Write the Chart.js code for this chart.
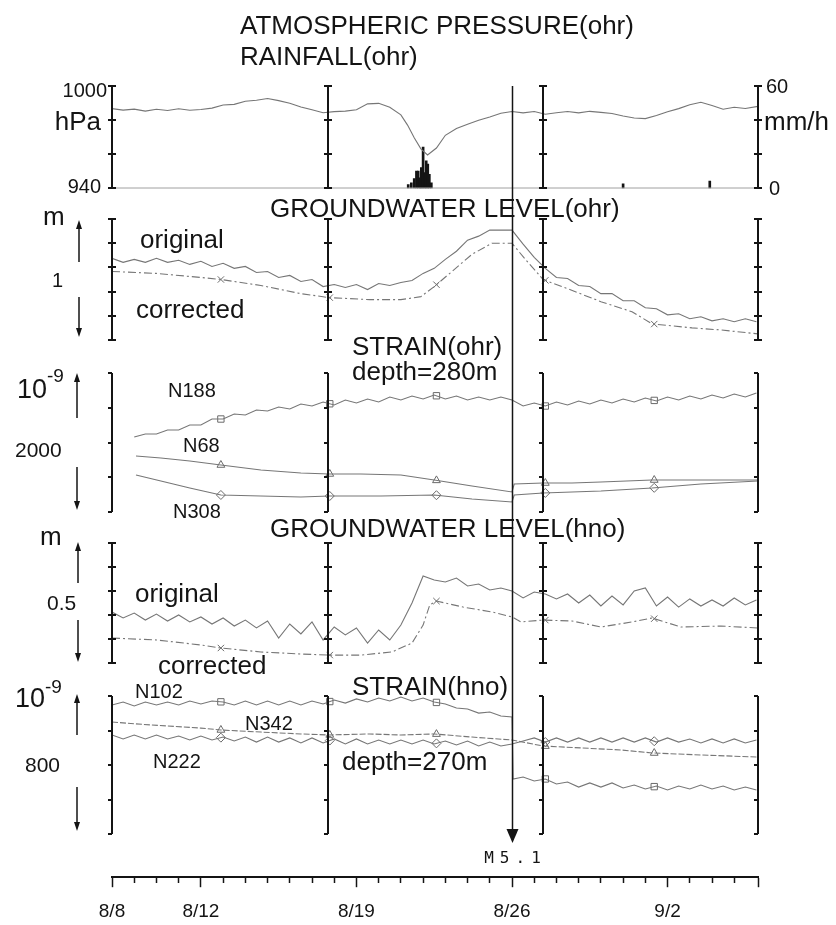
<!DOCTYPE html>
<html>
<head>
<meta charset="utf-8">
<script src="https://cdn.jsdelivr.net/npm/chart.js@4.4.1/dist/chart.umd.min.js"></script>
<style>
  html, body { margin: 0; padding: 0; background: #fff; }
  #wrap { position: relative; width: 836px; height: 925px; }
</style>
</head>
<body>
<div id="wrap"><canvas id="chart" width="836" height="925"></canvas></div>
<script>
// ---- time axis (days after 8/8) ----
const dateLabels = ["8/8", "8/12", "8/19", "8/26", "9/2"];
const dateLabelDays = [0, 4, 11, 18, 25];
const lastDay = 29.07;
const quakeDay = 18;
const quakeLabel = "M5.1";
const frameDays = [0, 9.72, 19.4, 29.07];
const markerDays = [4.9, 9.8, 14.6, 19.5, 24.4];

const halfDays = [0, 0.5, 1, 1.5, 2, 2.5, 3, 3.5, 4, 4.5, 5, 5.5, 6, 6.5, 7, 7.5, 8, 8.5, 9, 9.5,
  10, 10.5, 11, 11.5, 12, 12.5, 13, 13.5, 14, 14.5, 15, 15.5, 16, 16.5, 17, 17.5, 18, 18.5, 19, 19.5,
  20, 20.5, 21, 21.5, 22, 22.5, 23, 23.5, 24, 24.5, 25, 25.5, 26, 26.5, 27, 27.5, 28, 28.5, 29];

// ---- tick values of each panel ----
const pressureTicks = [940, 960, 980, 1000];
const rainTicks = [0, 20, 40, 60];
const gwOhrTicks = [0, 0.25, 0.5, 0.75, 1, 1.25];
const strainOhrTicks = [0, 500, 1000, 1500, 2000];
const gwHnoTicks = [0, 0.1, 0.2, 0.3, 0.4, 0.5];
const strainHnoTicks = [0, 200, 400, 600, 800];

// ---- atmospheric pressure (hPa) ----
const pressureDays = [0, 0.5, 1, 1.5, 2, 2.5, 3, 3.5, 4, 4.5, 5, 5.5, 6, 6.5, 7, 7.5, 8, 8.5, 9, 9.5,
  10, 10.5, 11, 11.5, 12, 12.5, 13, 13.3, 13.6, 13.9, 14.2, 14.6, 15, 15.5, 16, 16.5, 17, 17.5, 18, 18.5,
  19, 19.5, 20, 20.5, 21, 21.5, 22, 22.5, 23, 23.5, 24, 24.5, 25, 25.5, 26, 26.5, 27, 27.5, 28, 28.5, 29.07];
const pressureValues = [986.7, 985.8, 986.4, 985.2, 986.3, 985.6, 986.6, 985.7, 986.2, 987.0, 988.8, 989.2,
  991.0, 991.6, 992.6, 991.4, 989.8, 987.6, 986.0, 984.3, 984.9, 985.2, 986.0, 989.5, 989.8, 987.5, 983.0,
  977.0, 969.5, 963.0, 959.4, 963.5, 971.0, 975.0, 977.5, 979.8, 981.8, 984.0, 985.0, 984.2, 985.0, 983.4,
  984.3, 985.0, 984.2, 985.1, 984.5, 983.8, 982.4, 981.2, 980.8, 982.6, 984.8, 986.7, 989.0, 990.4, 988.5,
  986.3, 987.5, 986.8, 988.0];

// ---- rainfall (mm/h) ----
const rainDays = [13.33, 13.47, 13.6, 13.7, 13.78, 13.87, 13.92, 14.0, 14.07, 14.14, 14.21, 14.28, 14.37, 23.0, 26.9];
const rainValues = [2, 3, 5.5, 10, 10, 6, 12, 24, 9, 16, 14, 8, 3, 2.4, 4];

// ---- groundwater level ohr (m) ----
const gwOhrOriginal = [0.844, 0.802, 0.833, 0.802, 0.844, 0.802, 0.823, 0.781, 0.813, 0.760,
  0.792, 0.740, 0.760, 0.698, 0.708, 0.646, 0.667, 0.604, 0.625, 0.552,
  0.573, 0.542, 0.573, 0.521, 0.583, 0.563, 0.594, 0.615, 0.688, 0.740,
  0.833, 0.917, 1.031, 1.073, 1.135, 1.135, 1.135, 0.990, 0.854, 0.740,
  0.646, 0.635, 0.563, 0.552, 0.479, 0.479, 0.406, 0.406, 0.333, 0.323,
  0.260, 0.271, 0.219, 0.240, 0.198, 0.219, 0.188, 0.219, 0.188];
const gwOhrCorrDays = [0, 2, 4, 4.9, 6.7, 8.5, 9.77, 11.6, 13.0, 13.9, 14.5, 15.3, 16.2, 17.1, 18.0, 18.6,
  19.4, 20.6, 22.0, 23.4, 24.3, 26.1, 27.4, 29.07];
const gwOhrCorrected = [0.708, 0.688, 0.646, 0.625, 0.563, 0.479, 0.438, 0.417, 0.417, 0.448, 0.552, 0.708,
  0.885, 1.0, 1.0, 0.833, 0.625, 0.521, 0.396, 0.292, 0.167, 0.125, 0.104, 0.063];

// ---- strain ohr, depth 280 m (1e-9) ----
const n188 = [null, null, 1079, 1122, 1122, 1180, 1180, 1252, 1252, 1338, 1338, 1410, 1396, 1468, 1453,
  1511, 1482, 1554, 1525, 1583, 1540, 1612, 1568, 1626, 1583, 1655, 1612, 1669, 1626, 1684,
  1626, 1669, 1612, 1655, 1612, 1655, 1612, 1525, 1568, 1525, 1583, 1540, 1597, 1554, 1612,
  1568, 1626, 1583, 1640, 1597, 1655, 1612, 1669, 1626, 1684, 1640, 1698, 1655, 1712];
const n68Days = [1.08, 2.2, 3.5, 4.9, 6.7, 8.5, 9.77, 11.2, 13.0, 14.5, 16.2, 18.0, 18.1, 19.4, 20.7, 22.0, 24.3, 26.5, 29.07];
const n68 = [806, 777, 734, 676, 604, 561, 547, 547, 532, 460, 374, 288, 403, 417, 417, 432, 460, 460, 460];
const n308Days = [1.08, 2.2, 3.5, 4.9, 6.7, 8.5, 9.77, 12.1, 14.5, 16.2, 18.0, 18.1, 19.4, 20.7, 22.0, 24.3, 26.5, 29.07];
const n308 = [532, 446, 345, 245, 230, 216, 230, 230, 245, 187, 144, 245, 273, 288, 302, 345, 403, 446];

// ---- groundwater level hno (m) ----
const gwHnoOriginal = [0.2125, 0.1875, 0.208, 0.179, 0.204, 0.175, 0.2, 0.171, 0.192, 0.1625,
  0.1875, 0.154, 0.179, 0.146, 0.175, 0.104, 0.1625, 0.121, 0.171, 0.096,
  0.15, 0.117, 0.146, 0.083, 0.1375, 0.096, 0.158, 0.25, 0.3625, 0.346,
  0.3375, 0.354, 0.321, 0.329, 0.304, 0.3125, 0.3, 0.271, 0.296, 0.2875,
  0.267, 0.2875, 0.25, 0.283, 0.2375, 0.279, 0.242, 0.3, 0.3125, 0.2375,
  0.275, 0.233, 0.267, 0.2375, 0.2625, 0.2375, 0.271, 0.242, 0.2625];
const gwHnoCorrDays = [0, 2, 4, 4.9, 6.7, 8.5, 9.77, 11.2, 12.6, 13.5, 14.0, 14.3, 14.6, 15.8, 17.1, 18.0,
  18.4, 19.4, 20.7, 22.0, 23.4, 24.3, 25.6, 27.4, 29.07];
const gwHnoCorrected = [0.104, 0.096, 0.075, 0.0625, 0.046, 0.0375, 0.033, 0.033, 0.046, 0.083, 0.158, 0.242,
  0.258, 0.233, 0.2125, 0.192, 0.171, 0.179, 0.175, 0.15, 0.171, 0.1875, 0.15, 0.154, 0.146];

// ---- strain hno, depth 270 m (1e-9) ----
const n102Days = [0, 0.5, 1, 1.5, 2, 2.5, 3, 3.5, 4, 4.5, 5, 5.5, 6, 6.5, 7, 7.5, 8, 8.5, 9, 9.5,
  10, 10.5, 11, 11.5, 12, 12.5, 13, 13.5, 14, 14.5, 15, 15.5, 16, 16.5, 17, 17.5, 18, 18.05, 18.5,
  19, 19.5, 20, 20.5, 21, 21.5, 22, 22.5, 23, 23.5, 24, 24.5, 25, 25.5, 26, 26.5, 27, 27.5, 28, 28.5, 29];
const n102 = [748, 765, 742, 765, 748, 765, 748, 771, 754, 771, 765, 748, 771, 748, 771, 748, 771, 748, 771, 754,
  777, 759, 783, 765, 788, 771, 794, 771, 788, 765, 754, 730, 725, 701, 707, 684, 678, 319,
  330, 307, 319, 290, 301, 272, 296, 272, 296, 267, 284, 261, 278, 255, 278, 261, 284, 261, 278, 255, 272, 255];
const n342Days = [0, 1.75, 4.0, 4.9, 6.7, 8.5, 9.77, 11.6, 13.0, 14.5, 16.2, 18.0, 19.4, 21.1, 22.9, 24.3, 26.5, 29.07];
const n342 = [649, 632, 614, 603, 591, 580, 574, 580, 574, 580, 562, 545, 510, 499, 487, 470, 458, 446];
const n222 = [574, 551, 574, 551, 574, 551, 568, 545, 568, 545, 562, 539, 562, 533, 562, 533, 557, 528, 557, 528,
  551, 522, 551, 522, 545, 522, 545, 522, 545, 522, 539, 516, 539, 510, 533, 510, 522, 539, 557, 533,
  557, 533, 557, 533, 557, 533, 557, 533, 557, 533, 557, 533, 551, 528, 551, 528, 551, 528, 545];

// ---- layout of the stacked panels (canvas pixels) ----
const panelLayout = [
  { axis: "yPres", top: 86, bottom: 188, ticks: pressureTicks, mark: "both" },
  { axis: "yRain", top: 86, bottom: 188, ticks: rainTicks, mark: "none" },
  { axis: "yGwOhr", top: 219, bottom: 340, ticks: gwOhrTicks, mark: "both" },
  { axis: "yStOhr", top: 373, bottom: 512, ticks: strainOhrTicks, mark: "left" },
  { axis: "yGwHno", top: 543, bottom: 663, ticks: gwHnoTicks, mark: "both" },
  { axis: "yStHno", top: 696, bottom: 834, ticks: strainHnoTicks, mark: "left" },
];

const FONT = "'Liberation Sans', Arial, Helvetica, sans-serif";
const LINE = "#767676";
const INK = "#141414";

const texts = [
  { t: "ATMOSPHERIC PRESSURE(ohr)", x: 240, y: 34, s: 26 },
  { t: "RAINFALL(ohr)", x: 240, y: 65, s: 26 },
  { t: "1000", x: 107, y: 97, s: 20, a: "right" },
  { t: "hPa", x: 101, y: 130, s: 26, a: "right" },
  { t: "940", x: 101, y: 193, s: 20, a: "right" },
  { t: "60", x: 766, y: 93, s: 20 },
  { t: "mm/h", x: 764, y: 130, s: 26 },
  { t: "0", x: 769, y: 195, s: 20 },
  { t: "GROUNDWATER LEVEL(ohr)", x: 270, y: 217, s: 26 },
  { t: "m", x: 43, y: 225, s: 26 },
  { t: "1", x: 52, y: 287, s: 20 },
  { t: "original", x: 140, y: 248, s: 26 },
  { t: "corrected", x: 136, y: 318, s: 26 },
  { t: "STRAIN(ohr)", x: 352, y: 355, s: 26 },
  { t: "depth=280m", x: 352, y: 380, s: 26 },
  { t: "10", x: 17, y: 398, s: 27 },
  { t: "-9", x: 47, y: 382, s: 19 },
  { t: "2000", x: 15, y: 457, s: 21 },
  { t: "N188", x: 168, y: 397, s: 20 },
  { t: "N68", x: 183, y: 452, s: 20 },
  { t: "N308", x: 173, y: 518, s: 20 },
  { t: "GROUNDWATER LEVEL(hno)", x: 270, y: 537, s: 26 },
  { t: "m", x: 40, y: 545, s: 26 },
  { t: "0.5", x: 47, y: 610, s: 21 },
  { t: "original", x: 135, y: 602, s: 26 },
  { t: "corrected", x: 158, y: 674, s: 26 },
  { t: "STRAIN(hno)", x: 352, y: 695, s: 26 },
  { t: "depth=270m", x: 342, y: 770, s: 26 },
  { t: "10", x: 15, y: 707, s: 27 },
  { t: "-9", x: 45, y: 693, s: 19 },
  { t: "800", x: 25, y: 772, s: 21 },
  { t: "N102", x: 135, y: 698, s: 20 },
  { t: "N342", x: 245, y: 730, s: 20 },
  { t: "N222", x: 153, y: 768, s: 20 },
];

// up/down scale arrows beside each unit label
const scaleArrows = [
  { x: 79, from: 262, to: 220 }, { x: 79, from: 297, to: 337 },
  { x: 77, from: 418, to: 373 }, { x: 77, from: 467, to: 510 },
  { x: 78, from: 583, to: 542 }, { x: 78, from: 620, to: 662 },
  { x: 77, from: 735, to: 694 }, { x: 77, from: 787, to: 831 },
];

function valueAt(days, vals, d) {
  for (let i = 0; i < days.length - 1; i++) {
    if (d >= days[i] && d <= days[i + 1] && vals[i] != null && vals[i + 1] != null) {
      const t = (d - days[i]) / (days[i + 1] - days[i]);
      return vals[i] + t * (vals[i + 1] - vals[i]);
    }
  }
  return null;
}

function series(days, vals, axis, dash) {
  return {
    type: "line",
    yAxisID: axis,
    data: days.map((d, i) => ({ x: d, y: vals[i] })),
    borderColor: LINE,
    borderWidth: 1.1,
    borderDash: dash || [],
    pointRadius: 0,
    spanGaps: false,
  };
}

function markers(days, vals, axis, style) {
  return {
    type: "line",
    yAxisID: axis,
    showLine: false,
    data: markerDays.map(d => ({ x: d, y: valueAt(days, vals, d) })).filter(p => p.y !== null),
    pointStyle: style,
    pointRadius: 4.5,
    pointBorderWidth: 1,
    pointBorderColor: "#6a6a6a",
    pointBackgroundColor: "rgba(255,255,255,0)",
  };
}

const CORR_DASH = [8, 3, 2, 3];

const datasets = [
  series(pressureDays, pressureValues, "yPres"),
  {
    type: "bar",
    yAxisID: "yRain",
    data: rainDays.map((d, i) => ({ x: d, y: rainValues[i] })),
    backgroundColor: INK,
    barThickness: 2,
  },
  series(halfDays, gwOhrOriginal, "yGwOhr"),
  series(gwOhrCorrDays, gwOhrCorrected, "yGwOhr", CORR_DASH),
  markers(gwOhrCorrDays, gwOhrCorrected, "yGwOhr", "crossRot"),
  series(halfDays, n188, "yStOhr"),
  markers(halfDays, n188, "yStOhr", "rect"),
  series(n68Days, n68, "yStOhr"),
  markers(n68Days, n68, "yStOhr", "triangle"),
  series(n308Days, n308, "yStOhr"),
  markers(n308Days, n308, "yStOhr", "rectRot"),
  series(halfDays, gwHnoOriginal, "yGwHno"),
  series(gwHnoCorrDays, gwHnoCorrected, "yGwHno", CORR_DASH),
  markers(gwHnoCorrDays, gwHnoCorrected, "yGwHno", "crossRot"),
  series(n102Days, n102, "yStHno"),
  markers(n102Days, n102, "yStHno", "rect"),
  series(n342Days, n342, "yStHno", [6, 2]),
  markers(n342Days, n342, "yStHno", "triangle"),
  series(halfDays, n222, "yStHno"),
  markers(halfDays, n222, "yStHno", "rectRot"),
];

function bandLimits(area, top, bottom, vTop, vBot) {
  const k = (vTop - vBot) / (bottom - top);
  return { max: vTop + (top - area.top) * k, min: vBot - (area.bottom - bottom) * k };
}

function yScale(p, area) {
  const lim = bandLimits(area, p.top, p.bottom, Math.max(...p.ticks), Math.min(...p.ticks));
  return { type: "linear", display: false, min: lim.min, max: lim.max };
}

function arrow(ctx, x, from, to) {
  const dir = to < from ? -1 : 1;
  ctx.beginPath();
  ctx.moveTo(x, from);
  ctx.lineTo(x, to - dir * 6);
  ctx.stroke();
  ctx.beginPath();
  ctx.moveTo(x - 3, to - dir * 9);
  ctx.lineTo(x + 3, to - dir * 9);
  ctx.lineTo(x, to);
  ctx.closePath();
  ctx.fill();
}

const panelPlugin = {
  id: "panels",
  afterDraw(chart) {
    const { ctx, scales } = chart;
    const xs = scales.x;
    ctx.save();

    // rain zero line
    const yr = scales.yRain.getPixelForValue(0);
    ctx.strokeStyle = "#a0a0a0";
    ctx.lineWidth = 1;
    ctx.beginPath();
    ctx.moveTo(xs.left, yr);
    ctx.lineTo(xs.right, yr);
    ctx.stroke();

    // framing bars of every panel
    ctx.strokeStyle = INK;
    ctx.lineWidth = 2;
    panelLayout.forEach(p => {
      if (p.mark === "none") return;
      const s = scales[p.axis];
      const yTop = s.getPixelForValue(Math.max(...p.ticks));
      const yBot = s.getPixelForValue(Math.min(...p.ticks));
      frameDays.forEach(d => {
        const px = Math.round(xs.getPixelForValue(d));
        ctx.beginPath();
        ctx.moveTo(px, yTop);
        ctx.lineTo(px, yBot);
        ctx.stroke();
        p.ticks.forEach(t => {
          const ty = Math.round(s.getPixelForValue(t));
          ctx.beginPath();
          ctx.moveTo(px - 4, ty);
          ctx.lineTo(p.mark === "both" ? px + 4 : px, ty);
          ctx.stroke();
        });
      });
    });

    // earthquake marker
    const qx = Math.round(xs.getPixelForValue(quakeDay)) + 0.5;
    const qTop = scales.yPres.getPixelForValue(Math.max(...pressureTicks));
    ctx.lineWidth = 1.5;
    ctx.beginPath();
    ctx.moveTo(qx, qTop);
    ctx.lineTo(qx, 832);
    ctx.stroke();
    ctx.fillStyle = INK;
    ctx.beginPath();
    ctx.moveTo(qx - 6, 829);
    ctx.lineTo(qx + 6, 829);
    ctx.lineTo(qx, 843);
    ctx.closePath();
    ctx.fill();
    ctx.font = "16px 'DejaVu Sans Mono', monospace";
    ctx.textAlign = "center";
    ctx.textBaseline = "alphabetic";
    if ("letterSpacing" in ctx) ctx.letterSpacing = "6px";
    ctx.fillText(quakeLabel, qx + 3, 863);
    if ("letterSpacing" in ctx) ctx.letterSpacing = "0px";

    // unit arrows
    ctx.lineWidth = 1.5;
    scaleArrows.forEach(a => arrow(ctx, a.x, a.from, a.to));

    // annotations
    texts.forEach(tx => {
      ctx.font = tx.s + "px " + FONT;
      ctx.textAlign = tx.a || "left";
      ctx.fillText(tx.t, tx.x, tx.y);
    });
    ctx.restore();
  },
};

const guessArea = { top: 80, bottom: 877 };
const scales = {
  x: {
    type: "linear",
    min: 0,
    max: lastDay,
    offset: false,
    afterBuildTicks: scale => {
      const t = [];
      for (let d = 0; d <= 28; d++) t.push({ value: d });
      t.push({ value: lastDay });
      scale.ticks = t;
    },
    ticks: {
      autoSkip: false,
      maxRotation: 0,
      padding: 13,
      color: INK,
      font: { family: FONT, size: 19 },
      callback: v => {
        const i = dateLabelDays.indexOf(v);
        return i >= 0 ? dateLabels[i] : "";
      },
    },
    grid: {
      offset: false,
      drawOnChartArea: false,
      tickLength: 10,
      tickColor: INK,
      tickWidth: 1.5,
      tickBorderDash: ctx => {
        const v = ctx.tick ? ctx.tick.value : null;
        const major = dateLabelDays.includes(v) || v === lastDay;
        return major ? [] : [5, 50];
      },
    },
    border: { display: true, color: INK, width: 2 },
  },
};
panelLayout.forEach(p => { scales[p.axis] = yScale(p, guessArea); });

const chart = new Chart(document.getElementById("chart"), {
  type: "line",
  data: { datasets },
  options: {
    responsive: false,
    animation: false,
    layout: { padding: { left: 112, right: 78, top: 80, bottom: -11 } },
    plugins: { legend: { display: false }, tooltip: { enabled: false } },
    scales,
  },
  plugins: [panelPlugin],
});

// second pass: pin each panel band to its pixel rows now that the chart area is known
panelLayout.forEach(p => {
  const lim = bandLimits(chart.chartArea, p.top, p.bottom, Math.max(...p.ticks), Math.min(...p.ticks));
  chart.options.scales[p.axis].min = lim.min;
  chart.options.scales[p.axis].max = lim.max;
});
chart.update("none");
</script>
</body>
</html>
